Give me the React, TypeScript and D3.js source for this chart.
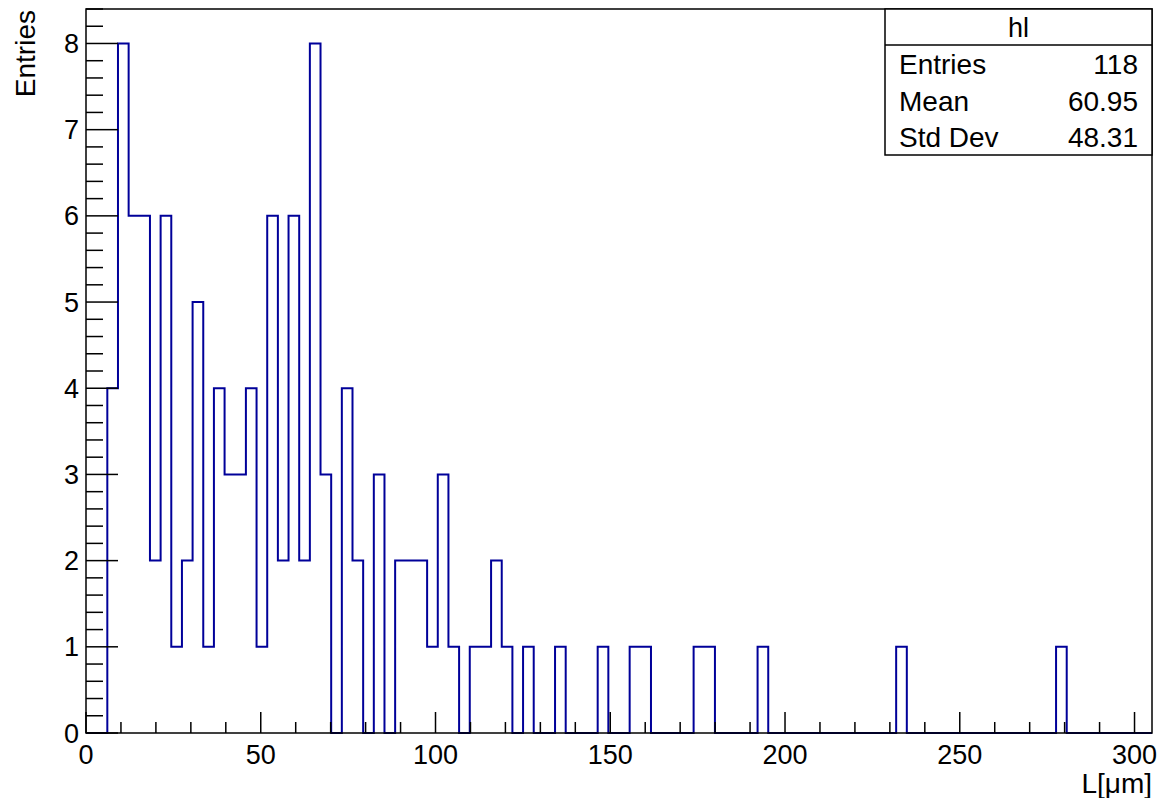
import React from "react";
import * as d3 from "d3";

// ---- data ----
const histName = "hl";
const xTitle = "L[\u03bcm]";
const yTitle = "Entries";
const xMin = 0;
const xMax = 305;
const binCounts = [
  0, 0, 4, 8, 6, 6, 2, 6, 1, 2,
  5, 1, 4, 3, 3, 4, 1, 6, 2, 6,
  2, 8, 3, 0, 4, 2, 0, 3, 0, 2,
  2, 2, 1, 3, 1, 0, 1, 1, 2, 1,
  0, 1, 0, 0, 1, 0, 0, 0, 1, 0,
  0, 1, 1, 0, 0, 0, 0, 1, 1, 0,
  0, 0, 0, 1, 0, 0, 0, 0, 0, 0,
  0, 0, 0, 0, 0, 0, 1, 0, 0, 0,
  0, 0, 0, 0, 0, 0, 0, 0, 0, 0,
  0, 1, 0, 0, 0, 0, 0, 0, 0, 0,
];
const yMax = 8.4;
const xMajorTicks = [0, 50, 100, 150, 200, 250, 300];
const yMajorTicks = [0, 1, 2, 3, 4, 5, 6, 7, 8];
const statLabels = ["Entries", "Mean", "Std Dev"];
const statValues = ["118", "60.95", "48.31"];

const W = 1158;
const H = 798;
const frame = { left: 86, right: 1152, top: 9, bottom: 733 };
const FONT = "'Liberation Sans', Arial, Helvetica, sans-serif";
const FS_TICK = 27;
const FS_TITLE = 28;
const FS_STAT = 28;

export default function App() {
  const x = d3.scaleLinear().domain([xMin, xMax]).range([frame.left, frame.right]);
  const y = d3.scaleLinear().domain([0, yMax]).range([frame.bottom, frame.top]);
  const nBins = binCounts.length;
  const bw = (xMax - xMin) / nBins;

  // step outline
  const pts: [number, number][] = [[xMin, 0]];
  binCounts.forEach((c, i) => {
    const x0 = xMin + i * bw;
    const x1 = x0 + bw;
    pts.push([x0, c]);
    pts.push([x1, c]);
  });
  pts.push([xMax, 0]);
  const line = d3
    .line<[number, number]>()
    .x((d) => x(d[0]))
    .y((d) => y(d[1]));

  const xMinor = d3.range(0, xMax + 0.001, 10).filter((v) => v % 50 !== 0);
  const yMinor = d3.range(0, yMax + 0.0001, 0.2).filter((v) => Math.abs(v - Math.round(v)) > 0.01);

  const box = { x: 885, y: frame.top, w: frame.right - 885, h: 146, titleH: 36 };
  const rowBase = [74, 111, 147];

  return (
    <svg
      width={W}
      height={H}
      style={{ position: "absolute", left: 0, top: 0, background: "#fff" }}
      fontFamily={FONT}
    >
      <rect x={0} y={0} width={W} height={H} fill="#fff" />
      {/* histogram */}
      <path d={line(pts) || ""} fill="none" stroke="#000099" strokeWidth={2} />
      {/* frame */}
      <rect
        x={frame.left}
        y={frame.top}
        width={frame.right - frame.left}
        height={frame.bottom - frame.top}
        fill="none"
        stroke="#000"
        strokeWidth={1.5}
      />
      {/* x ticks */}
      {xMajorTicks.map((v) => (
        <g key={"xm" + v}>
          <line x1={x(v)} x2={x(v)} y1={frame.bottom} y2={frame.bottom - 21} stroke="#000" strokeWidth={1.5} />
          <text x={x(v)} y={764} textAnchor="middle" fontSize={FS_TICK} fill="#000">
            {v}
          </text>
        </g>
      ))}
      {xMinor.map((v) => (
        <line key={"xn" + v} x1={x(v)} x2={x(v)} y1={frame.bottom} y2={frame.bottom - 11} stroke="#000" strokeWidth={1.5} />
      ))}
      {/* y ticks */}
      {yMajorTicks.map((v) => (
        <g key={"ym" + v}>
          <line x1={frame.left} x2={frame.left + 32} y1={y(v)} y2={y(v)} stroke="#000" strokeWidth={1.5} />
          <text x={79} y={y(v) + 9.5} textAnchor="end" fontSize={FS_TICK} fill="#000">
            {v}
          </text>
        </g>
      ))}
      {yMinor.map((v, i) => (
        <line key={"yn" + i} x1={frame.left} x2={frame.left + 17} y1={y(v)} y2={y(v)} stroke="#000" strokeWidth={1.5} />
      ))}
      {/* axis titles */}
      <text x={frame.right} y={793} textAnchor="end" fontSize={FS_TITLE} fill="#000">
        {xTitle}
      </text>
      <text
        transform={`translate(35,${frame.top + 1}) rotate(-90)`}
        textAnchor="end"
        fontSize={FS_TITLE}
        fill="#000"
      >
        {yTitle}
      </text>
      {/* stats box */}
      <rect x={box.x} y={box.y} width={box.w} height={box.h} fill="#fff" stroke="#000" strokeWidth={1.5} />
      <line x1={box.x} x2={box.x + box.w} y1={box.y + box.titleH} y2={box.y + box.titleH} stroke="#000" strokeWidth={1.5} />
      <text x={box.x + box.w / 2} y={37} textAnchor="middle" fontSize={FS_STAT - 1} fill="#000">
        {histName}
      </text>
      {statLabels.map((l, i) => (
        <g key={l}>
          <text x={899} y={rowBase[i]} fontSize={FS_STAT} fill="#000">
            {l}
          </text>
          <text x={1138} y={rowBase[i]} textAnchor="end" fontSize={FS_STAT} fill="#000">
            {statValues[i]}
          </text>
        </g>
      ))}
    </svg>
  );
}
